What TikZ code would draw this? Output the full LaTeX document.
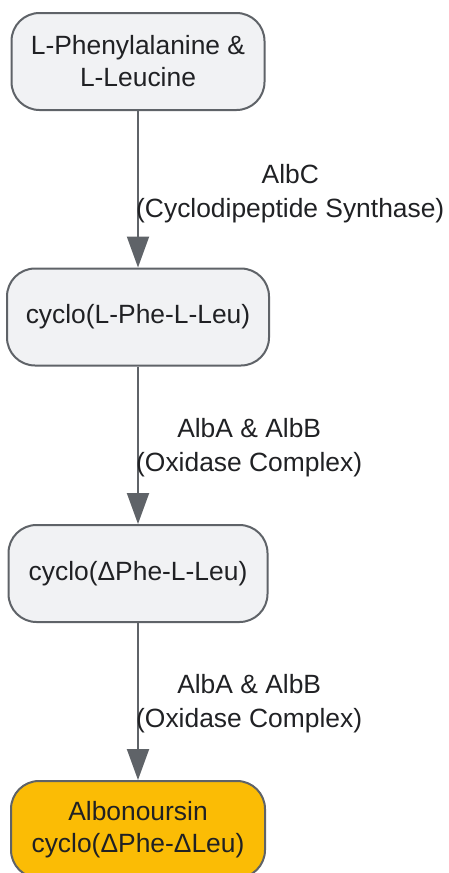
\documentclass[tikz,border=0pt]{standalone}
\usepackage{fontspec}
\setmainfont{Liberation Sans}
\usetikzlibrary{arrows.meta}
\definecolor{boxfill}{HTML}{F1F2F4}
\definecolor{boxline}{HTML}{5F6368}
\definecolor{txt}{HTML}{202124}
\definecolor{gold}{HTML}{FBBC05}
\tikzset{
  stagebox/.style={draw=boxline, line width=2pt, fill=boxfill, rounded corners=28pt,
    inner sep=0pt, minimum height=97pt, align=center, text=txt,
    font=\fontsize{26.4}{32}\selectfont},
  finalbox/.style={stagebox, fill=gold},
  steplabel/.style={anchor=west, inner sep=0pt, align=center, text=txt,
    font=\fontsize{26.4}{34}\selectfont},
  flow/.style={draw=boxline, line width=2pt, -{Triangle[length=31pt,width=22pt]}}
}
\begin{document}
\begin{tikzpicture}[x=1pt,y=-1pt]
\useasboundingbox (0,0) rectangle (448,873);
\node[stagebox, minimum width=253pt] (n1) at (138,61.5) {L-Phenylalanine \&\\L-Leucine};
\node[stagebox, minimum width=262pt] (n2) at (138,317) {cyclo(L-Phe-L-Leu)};
\node[stagebox, minimum width=259pt] (n3) at (138,573.5) {cyclo(ΔPhe-L-Leu)};
\node[finalbox, minimum width=254pt] (n4) at (138,829.5) {Albonoursin\\cyclo(ΔPhe-ΔLeu)};
\draw[flow] (n1.south) -- (n2.north);
\draw[flow] (n2.south) -- (n3.north);
\draw[flow] (n3.south) -- (n4.north);
\node[steplabel] (l1) at (136,194) {AlbC\\(Cyclodipeptide Synthase)};
\node[steplabel] (l2) at (136,448) {AlbA \& AlbB\\(Oxidase Complex)};
\node[steplabel] (l3) at (136,704) {AlbA \& AlbB\\(Oxidase Complex)};
\end{tikzpicture}
\end{document}
